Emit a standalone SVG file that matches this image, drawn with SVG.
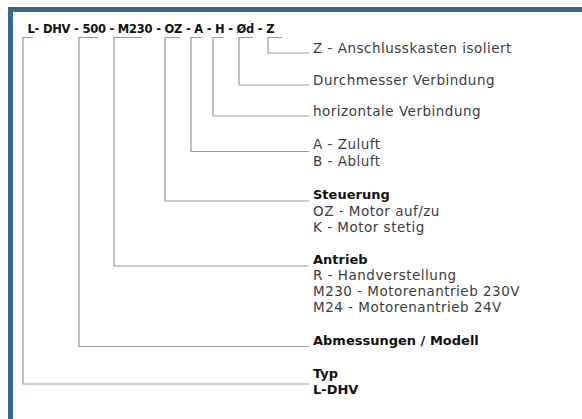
<svg xmlns="http://www.w3.org/2000/svg" width="582" height="419" viewBox="0 0 582 419">
<style>
.frame{fill:none;stroke:#3a6792;stroke-width:5;stroke-linejoin:miter}
.c{fill:none;stroke:#9a9a9a;stroke-width:1.2}
.t{font-family:"DejaVu Sans","Open Sans",sans-serif;font-size:13.5px;letter-spacing:0.5px;fill:#3c3c3c}
.b{font-family:"DejaVu Sans","Open Sans",sans-serif;font-size:13px;font-weight:bold;fill:#111}
.title{font-family:"DejaVu Sans","Open Sans",sans-serif;font-size:11.5px;font-weight:bold;fill:#111}
</style>
<rect width="582" height="419" fill="#ffffff"/>
<path class="frame" d="M10.5,419 V9.5 H582"/>
<g id="code">
<text class="title" x="27.5" y="32.5" textLength="247" lengthAdjust="spacing">L- DHV - 500 - M230 - OZ - A - H - Ød - Z</text>
</g>
<g id="connectors">
<path class="c" d="M33,37.5 H23 V384 H309"/>
<path class="c" d="M98,37.5 H79 V346.5 H309"/>
<path class="c" d="M142,37.5 H114 V266 H309"/>
<path class="c" d="M180,37.5 H165 V201 H309"/>
<path class="c" d="M202,37.5 H191 V151.5 H309"/>
<path class="c" d="M224,37.5 H213 V116 H309"/>
<path class="c" d="M253,37.5 H239 V85 H309"/>
<path class="c" d="M282,37.5 H268 V53 H309"/>
</g>
<g id="n-z"><text class="t" x="313" y="53">Z - Anschlusskasten isoliert</text></g>
<g id="n-d"><text class="t" x="313" y="85">Durchmesser Verbindung</text></g>
<g id="n-h"><text class="t" x="313" y="116">horizontale Verbindung</text></g>
<g id="n-a"><text class="t" x="313" y="149">A - Zuluft</text><text class="t" x="313" y="165.5">B - Abluft</text></g>
<g id="n-steuerung"><text class="b" x="313" y="199">Steuerung</text><text class="t" x="313" y="215.5">OZ - Motor auf/zu</text><text class="t" x="313" y="231.5">K - Motor stetig</text></g>
<g id="n-antrieb"><text class="b" x="313" y="263.5">Antrieb</text><text class="t" x="313" y="279.5">R - Handverstellung</text><text class="t" x="313" y="295.5">M230 - Motorenantrieb 230V</text><text class="t" x="313" y="311.5">M24 - Motorenantrieb 24V</text></g>
<g id="n-abm"><text class="b" x="313" y="345">Abmessungen / Modell</text></g>
<g id="n-typ"><text class="b" x="313" y="378">Typ</text><text class="b" x="313" y="394">L-DHV</text></g>
</svg>
